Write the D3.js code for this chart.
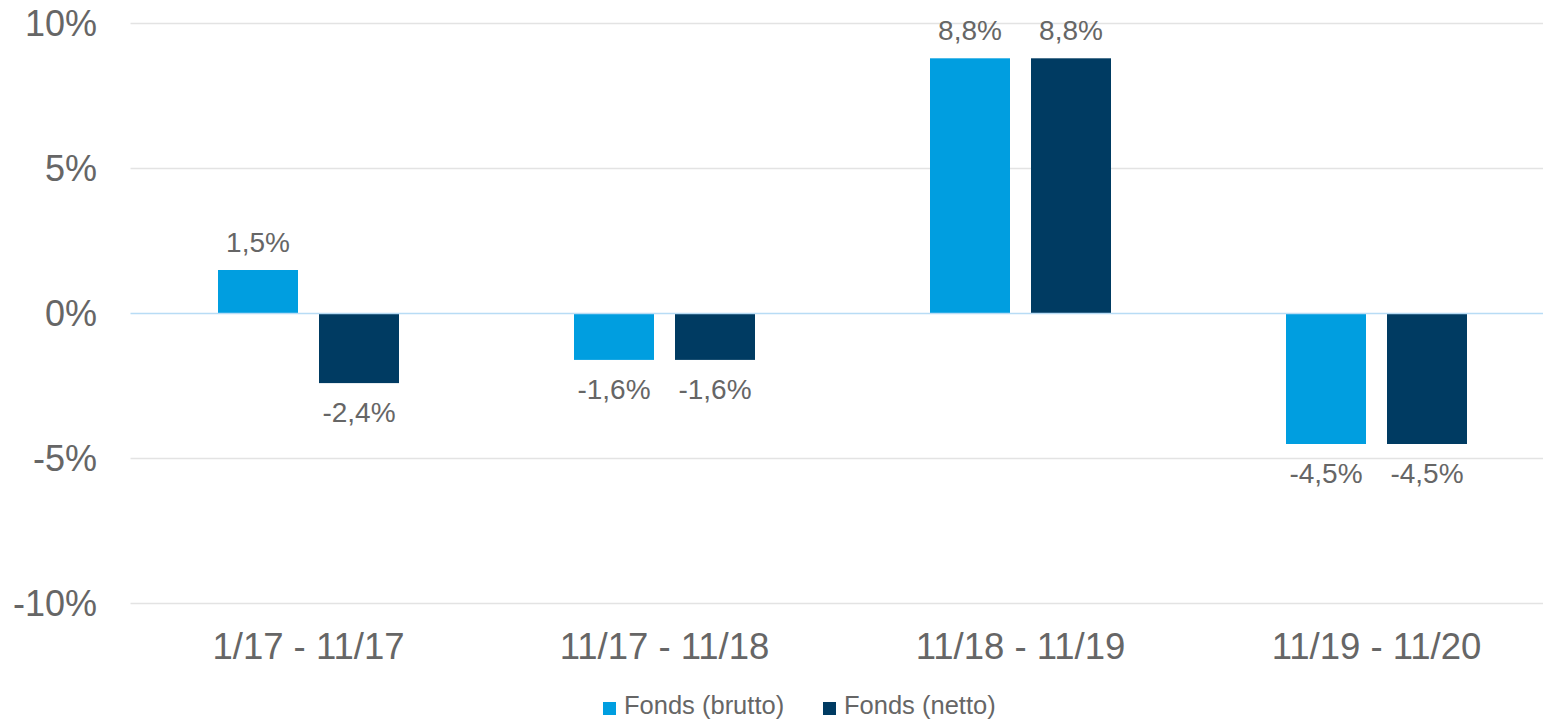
<!DOCTYPE html>
<html>
<head>
<meta charset="utf-8">
<script src="https://cdn.jsdelivr.net/npm/d3@7"></script>
<style>
  body { margin: 0; background: #fff; }
  text { font-family: "Liberation Sans", Arial, sans-serif; fill: #666666; }
</style>
</head>
<body>
<div id="chart"></div>
<script>
var categories = ["1/17 - 11/17", "11/17 - 11/18", "11/18 - 11/19", "11/19 - 11/20"];
var seriesNames = ["Fonds (brutto)", "Fonds (netto)"];
var brutto = [1.5, -1.6, 8.8, -4.5];
var netto = [-2.4, -1.6, 8.8, -4.5];
var yTicks = [-10, -5, 0, 5, 10];
var colors = ["#009ee0", "#003b62"];

var width = 1543, height = 721;
var margin = { top: 23.5, left: 130.5, bottom: 721 - 603.5 };

var svg = d3.select("#chart").append("svg")
  .attr("width", width)
  .attr("height", height);

var y = d3.scaleLinear().domain([-10, 10]).range([603.5, 23.5]);

// band step of 356px, bars cover 181px of it
var x0 = d3.scaleBand()
  .domain(categories)
  .range([margin.left, margin.left + 1424])
  .paddingInner(175 / 356)
  .paddingOuter(175 / 712);

var x1 = d3.scaleBand()
  .domain(seriesNames)
  .range([0, x0.bandwidth()])
  .paddingInner(21 / 101);

function pct(v) {
  return v.toFixed(1).replace(".", ",") + "%";
}

// gridlines
svg.append("g").selectAll("line")
  .data(yTicks.filter(function(d) { return d !== 0; }))
  .enter().append("line")
  .attr("x1", margin.left)
  .attr("x2", width)
  .attr("y1", function(d) { return y(d); })
  .attr("y2", function(d) { return y(d); })
  .attr("stroke", "#e3e3e3")
  .attr("stroke-width", 1.5);

// y tick labels
svg.append("g").selectAll("text")
  .data(yTicks)
  .enter().append("text")
  .attr("x", 97)
  .attr("y", function(d) { return y(d); })
  .attr("dy", "0.36em")
  .attr("text-anchor", "end")
  .style("font-size", "36px")
  .text(function(d) { return d + "%"; });

// bars
var rows = [];
categories.forEach(function(c, i) {
  rows.push({ cat: c, s: seriesNames[0], v: brutto[i], color: colors[0] });
  rows.push({ cat: c, s: seriesNames[1], v: netto[i], color: colors[1] });
});

svg.append("g").selectAll("rect")
  .data(rows)
  .enter().append("rect")
  .attr("x", function(d) { return x0(d.cat) + x1(d.s); })
  .attr("y", function(d) { return y(Math.max(0, d.v)); })
  .attr("width", x1.bandwidth())
  .attr("height", function(d) { return Math.abs(y(d.v) - y(0)); })
  .attr("fill", function(d) { return d.color; });

// zero line
svg.append("line")
  .attr("x1", margin.left)
  .attr("x2", width)
  .attr("y1", y(0))
  .attr("y2", y(0))
  .attr("stroke", "#b8dcf5")
  .attr("stroke-width", 1.5);

// data labels
svg.append("g").selectAll("text")
  .data(rows)
  .enter().append("text")
  .attr("x", function(d) { return x0(d.cat) + x1(d.s) + x1.bandwidth() / 2; })
  .attr("y", function(d) { return d.v >= 0 ? y(d.v) - 18 : y(d.v) + 39; })
  .attr("text-anchor", "middle")
  .style("font-size", "28px")
  .text(function(d) { return pct(d.v); });

// category labels
svg.append("g").selectAll("text")
  .data(categories)
  .enter().append("text")
  .attr("x", function(d) { return x0(d) + x0.bandwidth() / 2; })
  .attr("y", 659)
  .attr("text-anchor", "middle")
  .style("font-size", "36.5px")
  .text(function(d) { return d; });

// legend
var legendX = [603, 823];
var legend = svg.append("g").selectAll("g")
  .data(seriesNames)
  .enter().append("g")
  .attr("transform", function(d, i) { return "translate(" + legendX[i] + ",0)"; });

legend.append("rect")
  .attr("x", 0)
  .attr("y", 702)
  .attr("width", 13)
  .attr("height", 13)
  .attr("fill", function(d, i) { return colors[i]; });

legend.append("text")
  .attr("x", 21)
  .attr("y", 714)
  .style("font-size", "25.5px")
  .text(function(d) { return d; });
</script>
</body>
</html>
